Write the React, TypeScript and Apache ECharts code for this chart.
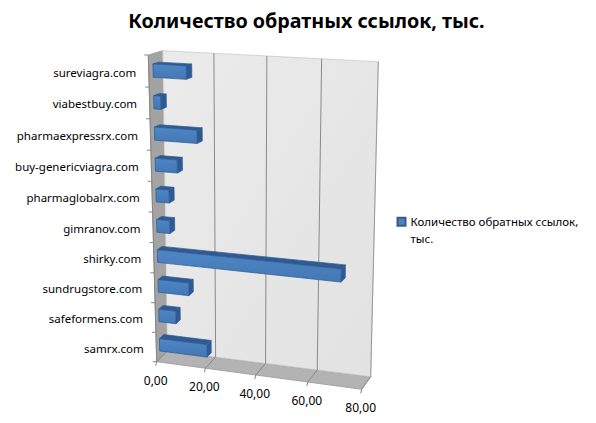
import React, { useEffect, useRef } from "react";
import * as echarts from "echarts";

const seriesName = "Количество обратных ссылок, тыс.";
const categories = ["samrx.com", "safeformens.com", "sundrugstore.com", "shirky.com", "gimranov.com", "pharmaglobalrx.com", "buy-genericviagra.com", "pharmaexpressrx.com", "viabestbuy.com", "sureviagra.com"];
const values = [19.5, 7, 12.5, 71, 5.3, 5.3, 8.8, 16.8, 2.8, 13];
const xTicks = [0, 20, 40, 60, 80];
const xTickLabels = ["0,00", "20,00", "40,00", "60,00", "80,00"];

const FONT = '"Noto Sans"';
type P = [number, number];
// perspective cube corners: f/b = front/back, l/r, b/t
const C = {
  flb: [156.7, 361.7], frb: [361.7, 389.3], blb: [167.3, 351], brb: [370.7, 376.7],
  flt: [148.3, 55], frt: [365.5, 67.9], blt: [162.7, 50.7], brt: [378.3, 61.7],
};
const warp = (t: number, c: number) => t / (1 + c * (1 - t));
function project(u: number, v: number, w: number): P {
  const U = warp(u, 0.07), V = warp(v, 0.05);
  const out: P = [0, 0];
  for (let i = 0; i < 2; i++) {
    const fb = C.flb[i] * (1 - U) + C.frb[i] * U;
    const ft = C.flt[i] * (1 - U) + C.frt[i] * U;
    const bb = C.blb[i] * (1 - U) + C.brb[i] * U;
    const bt = C.blt[i] * (1 - U) + C.brt[i] * U;
    const f = fb * (1 - V) + ft * V;
    const b = bb * (1 - V) + bt * V;
    out[i] = f * (1 - w) + b * w;
  }
  return out;
}
const toUV = (params: any, pt: number[]) => {
  const s = params.coordSys;
  return [(pt[0] - s.x) / s.width, (s.y + s.height - pt[1]) / s.height];
};
const poly = (points: P[], fill: any, stroke: string, lineWidth = 0.7) => ({
  type: "polygon", shape: { points }, style: { fill, stroke, lineWidth },
});
const line = (a: P, b: P, stroke: string, lineWidth = 1) => ({
  type: "line", shape: { x1: a[0], y1: a[1], x2: b[0], y2: b[1] }, style: { stroke, lineWidth },
});

const W0 = 0.3, W1 = 0.7, BAR = 0.42, BAR_SHIFT = 0.003;

export default function App() {
  const ref = useRef<HTMLDivElement>(null);
  useEffect(() => {
    const chart = echarts.init(ref.current!, null, { renderer: "svg" });
    const wallGrad = new echarts.graphic.LinearGradient(0, 0, 1, 1, [
      { offset: 0, color: "#ebebeb" }, { offset: 1, color: "#e2e2e2" },
    ]);
    const frontGrad = new echarts.graphic.LinearGradient(0, 0, 0, 1, [
      { offset: 0, color: "#4f86c6" }, { offset: 1, color: "#4477b4" },
    ]);
    const base = { type: "custom", silent: true, clip: false, encode: { x: 0, y: 1 } };
    chart.setOption({
      animation: false,
      backgroundColor: "#ffffff",
      title: {
        text: seriesName, left: 301.5, top: 5, textAlign: "center",
        textStyle: { fontFamily: FONT, fontSize: 19.7, fontWeight: "bold", color: "#000000" },
      },
      legend: {
        show: true, data: [seriesName], left: 396.5, top: 197, orient: "vertical", icon: "rect",
        itemWidth: 8, itemHeight: 8, padding: 0, selectedMode: false,
        formatter: () => "\nКоличество обратных ссылок,\nтыс.",
        textStyle: { fontFamily: FONT, fontSize: 11.5, color: "#000000", lineHeight: 16.5 },
      },
      grid: { left: 100, top: 50, width: 200, height: 300 },
      xAxis: { type: "value", min: 0, max: 80, interval: 20, show: false },
      yAxis: { type: "category", data: categories, show: false },
      series: [
        {
          ...base, name: "walls", z: 1, data: [[0, 0]],
          renderItem: () => ({
            type: "group",
            children: [
              poly([project(0, 1, 0), project(0, 1, 1), project(0, 0, 1), project(0, 0, 0)], "#a3a3a3", "#8f8f8f"),
              poly([project(0, 0, 0), project(0, 0, 1), project(1, 0, 1), project(1, 0, 0)], "#b3b3b3", "#8f8f8f"),
              poly([project(0, 1, 1), project(1, 1, 1), project(1, 0, 1), project(0, 0, 1)], wallGrad, "#c4c4c4"),
            ],
          }),
        },
        {
          ...base, name: "xaxis", z: 2, data: xTicks.map((t) => [t, 0]),
          renderItem: (params: any, api: any) => {
            const u = toUV(params, api.coord([api.value(0), 0]))[0];
            const i = params.dataIndex;
            const a = project(u, 0, 0), b = project(u, 0, 1), c = project(u, 1, 1);
            const children: any[] = [
              line(a, [a[0] - 1, a[1] + 4], "#868686"),
              {
                type: "text",
                style: {
                  x: a[0] - 1, y: a[1] + 18.5, text: xTickLabels[i], align: "center", verticalAlign: "middle",
                  fill: "#000000", font: `12px ${FONT}`,
                },
              },
            ];
            children.push(line(a, b, "#8a8a8a"));
            if (i > 0) children.push(line(b, c, "#8a8a8a", i === 4 ? 0.8 : 1));
            return { type: "group", children };
          },
        },
        {
          ...base, name: "yaxis", z: 2, data: categories.map((_, i) => [0, i]),
          renderItem: (params: any, api: any) => {
            const idx = api.value(1);
            const pt = api.coord([0, idx]);
            const band = api.size([0, 1])[1];
            const H = params.coordSys.height;
            const v = toUV(params, pt)[1];
            const lo = project(0, v - band / 2 / H, 0);
            const hi = project(0, v + band / 2 / H, 0);
            const mid = project(0, v, 0);
            const children: any[] = [
              line(lo, [lo[0] - 4, lo[1]], "#868686"),
              line(lo, hi, "#868686"),
              {
                type: "text",
                style: {
                  x: mid[0] - 12.5, y: mid[1] + 1, text: categories[idx], align: "right", verticalAlign: "middle",
                  fill: "#000000", font: `11.5px ${FONT}`,
                },
              },
            ];
            if (idx === categories.length - 1) children.push(line(hi, [hi[0] - 4, hi[1]], "#868686"));
            return { type: "group", children };
          },
        },
        {
          ...base, name: seriesName, z: 3, itemStyle: { color: "#4f81bd", borderColor: "#385d8a", borderWidth: 0.7 },
          data: values.map((v, i) => [v, i]),
          renderItem: (params: any, api: any) => {
            const pt0 = api.coord([0, api.value(1)]);
            const pt1 = api.coord([api.value(0), api.value(1)]);
            const band = api.size([0, 1])[1] / params.coordSys.height;
            const [, vc] = toUV(params, pt0);
            const v = vc - BAR_SHIFT;
            const u = toUV(params, pt1)[0];
            const lo = v - (band * BAR) / 2, hi = v + (band * BAR) / 2;
            const edge = "#2c5a91";
            return {
              type: "group",
              children: [
                poly([project(0, hi, W0), project(0, hi, W1), project(u, hi, W1), project(u, hi, W0)], "#2f5b92", edge),
                poly([project(u, hi, W0), project(u, hi, W1), project(u, lo, W1), project(u, lo, W0)], "#2d5a94", edge),
                poly([project(0, hi, W0), project(u, hi, W0), project(u, lo, W0), project(0, lo, W0)], frontGrad, edge),
              ],
            };
          },
        },
      ],
    } as any);
    return () => chart.dispose();
  }, []);
  return <div ref={ref} style={{ position: "absolute", left: 0, top: 0, width: 596, height: 423 }} />;
}
